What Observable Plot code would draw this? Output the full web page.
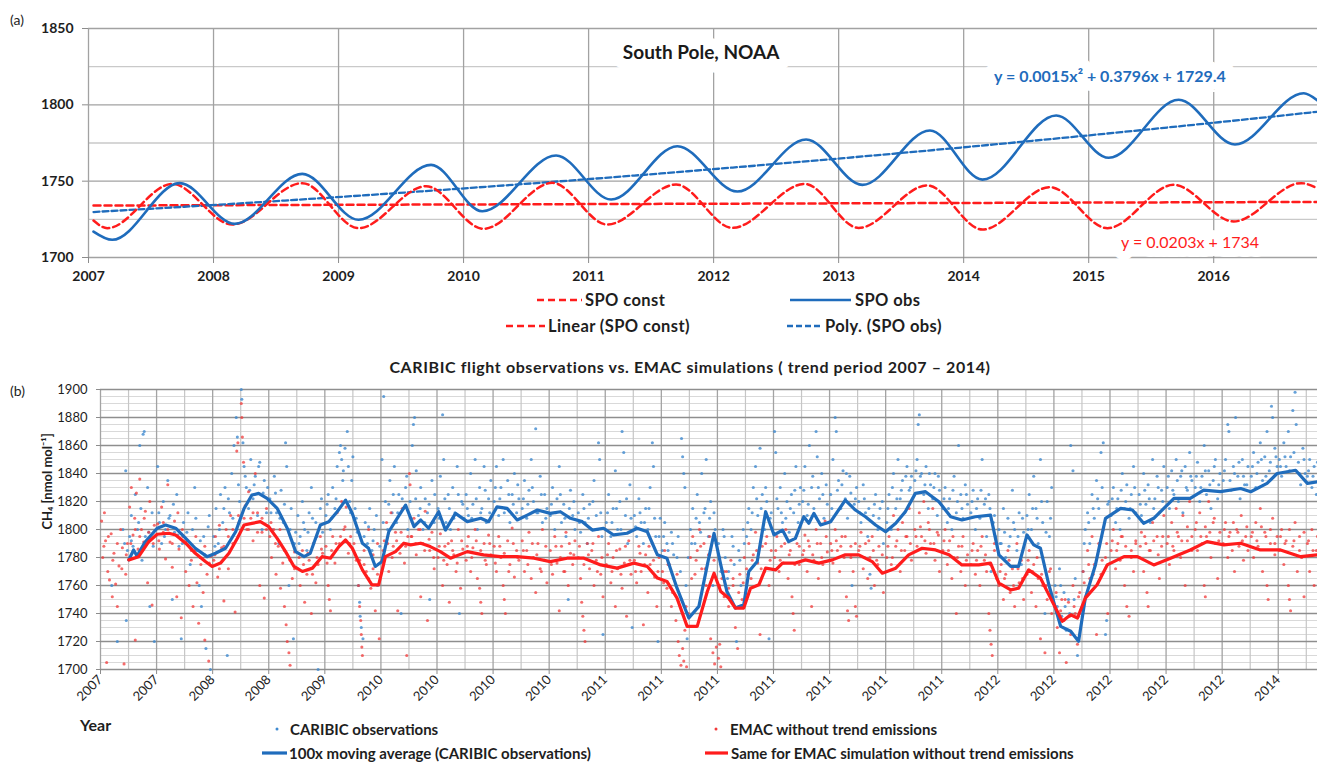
<!DOCTYPE html>
<html>
<head>
<meta charset="utf-8">
<script src="https://cdn.jsdelivr.net/npm/d3@7"></script>
<script src="https://cdn.jsdelivr.net/npm/@observablehq/plot@0.6"></script>
<style>
  body { margin: 0; background: #fff; }
  #page { position: relative; width: 1317px; height: 762px; overflow: hidden; font-family: Lato, "Open Sans", sans-serif; color: #1e1e1e; }
  #page svg { position: absolute; left: 0; }
  .t { position: absolute; white-space: nowrap; transform: translateY(-50%); line-height: 1; }
</style>
</head>
<body>
<div id="page"></div>
<script>
// ---------- Panel (a): South Pole NOAA methane ----------
const yearsA = [2007, 2008, 2009, 2010, 2011, 2012, 2013, 2014, 2015, 2016];
const yTicksA = [1700, 1750, 1800, 1850];
const yMinorA = [1725, 1775, 1825];

// observed SPO series (decimal year, ppb): start, alternating troughs/peaks, end
const spoObs = [
  [2007.04, 1717.0], [2007.19, 1711.6], [2007.73, 1748.7], [2008.17, 1722.0],
  [2008.71, 1754.8], [2009.16, 1724.7], [2009.74, 1760.7], [2010.15, 1730.3],
  [2010.74, 1766.8], [2011.18, 1738.0], [2011.71, 1772.9], [2012.19, 1743.2],
  [2012.74, 1777.3], [2013.19, 1747.6], [2013.73, 1783.2], [2014.15, 1751.0],
  [2014.74, 1793.0], [2015.16, 1765.3], [2015.72, 1803.3], [2016.17, 1774.0],
  [2016.72, 1807.6], [2016.83, 1802.8]
];
// SPO with constant emissions
const spoConst = [
  [2007.04, 1724.2], [2007.15, 1719.2], [2007.67, 1748.2], [2008.15, 1721.6],
  [2008.71, 1748.7], [2009.16, 1719.2], [2009.70, 1746.7], [2010.16, 1718.8],
  [2010.71, 1748.9], [2011.15, 1721.6], [2011.70, 1747.8], [2012.15, 1719.4],
  [2012.73, 1748.2], [2013.16, 1719.4], [2013.71, 1747.2], [2014.15, 1718.3],
  [2014.69, 1746.1], [2015.15, 1719.2], [2015.68, 1747.6], [2016.16, 1723.6],
  [2016.70, 1748.7], [2016.83, 1745.2]
];
// trend lines: values of the fitted equations (x = month number) at the plotted dates
const linearConst = [[2007.04, 1734.02], [2016.87, 1736.42]];
const polyObs = [
  [2007.04, 1729.78], [2008.04, 1734.59], [2009.04, 1739.83], [2010.04, 1745.50],
  [2011.04, 1751.60], [2012.04, 1758.14], [2013.04, 1765.10], [2014.04, 1772.50],
  [2015.04, 1780.33], [2016.04, 1788.60], [2016.87, 1795.81]
];
const titleA = "South Pole, NOAA";
const eqPoly = "y = 0.0015x² + 0.3796x + 1729.4";
const eqLinear = "y = 0.0203x + 1734";
const legendLabelsA = ["SPO const", "SPO obs", "Linear (SPO const)", "Poly. (SPO obs)"];

// ---------- Panel (b): CARIBIC vs EMAC ----------
const xLabelsB = ["2007","2007","2008","2008","2009","2010","2010","2010","2010","2011","2011",
                  "2011","2011","2011","2011","2011","2012","2012","2012","2012","2012","2014"];
const yTicksB = [1700, 1720, 1740, 1760, 1780, 1800, 1820, 1840, 1860, 1880, 1900];
const titleB = "CARIBIC flight observations vs. EMAC simulations ( trend period 2007 – 2014)";
const yTitleB = "CH₄ [nmol mol⁻¹]";
const legendLabelsB = ["CARIBIC observations", "EMAC without trend emissions",
                       "100x moving average (CARIBIC observations)", "Same for EMAC simulation without trend emissions"];

// 100-point moving averages (sample position in label units, nmol/mol)
const blueAvg = [
  [0.505,1778.3],[0.59,1785.4],[0.65,1781.0],[0.80,1791.3],[1.01,1800.9],[1.16,1803.2],[1.34,1800.9],
  [1.52,1793.7],[1.69,1786.6],[1.90,1780.6],[2.05,1783.0],[2.23,1786.6],[2.41,1798.4],[2.56,1815.0],
  [2.70,1824.6],[2.82,1825.8],[2.97,1822.2],[3.15,1815.1],[3.33,1800.9],[3.48,1784.2],[3.63,1780.6],
  [3.74,1783.0],[3.92,1803.2],[4.07,1805.6],[4.22,1812.7],[4.37,1821.0],[4.49,1811.5],[4.67,1790.2],
  [4.78,1786.6],[4.90,1773.6],[5.02,1777.1],[5.14,1798.4],[5.29,1808.0],[5.44,1817.4],[5.59,1802.0],
  [5.71,1806.8],[5.85,1800.9],[6.03,1812.7],[6.15,1799.6],[6.33,1811.5],[6.54,1805.6],[6.78,1808.0],
  [6.92,1805.6],[7.07,1816.2],[7.25,1815.1],[7.43,1806.8],[7.61,1810.3],[7.79,1813.9],[8.02,1811.5],
  [8.20,1812.7],[8.38,1808.0],[8.59,1805.6],[8.77,1799.6],[8.97,1800.9],[9.15,1796.1],[9.39,1797.3],
  [9.57,1800.9],[9.75,1798.4],[9.93,1781.9],[10.10,1779.5],[10.28,1758.1],[10.49,1736.8],[10.67,1745.1],
  [10.82,1774.7],[10.94,1797.3],[11.06,1774.7],[11.17,1755.7],[11.32,1743.9],[11.47,1746.3],[11.56,1770.0],
  [11.71,1777.1],[11.86,1812.7],[12.01,1796.1],[12.16,1799.6],[12.27,1791.3],[12.39,1793.7],[12.54,1809.1],
  [12.63,1804.4],[12.72,1811.5],[12.84,1803.2],[13.02,1805.6],[13.28,1821.0],[13.46,1813.9],[13.64,1809.1],
  [13.82,1803.2],[14.00,1798.4],[14.18,1804.4],[14.35,1812.7],[14.53,1825.8],[14.71,1827.0],[14.95,1819.8],
  [15.16,1809.1],[15.36,1806.8],[15.60,1809.1],[15.87,1810.3],[16.02,1781.9],[16.23,1773.6],[16.37,1773.6],
  [16.52,1796.1],[16.64,1789.0],[16.76,1786.6],[16.91,1760.5],[17.12,1730.8],[17.30,1727.3],[17.44,1720.1],
  [17.56,1751.0],[17.74,1774.7],[17.92,1808.0],[18.19,1815.1],[18.40,1813.9],[18.60,1804.4],[18.78,1808.0],
  [18.96,1815.1],[19.14,1822.2],[19.43,1822.2],[19.67,1828.1],[19.97,1827.0],[20.33,1829.3],[20.51,1827.0],
  [20.80,1832.9],[20.98,1840.0],[21.31,1842.3],[21.52,1832.9],[21.70,1834.0]
];
const redAvg = [
  [0.505,1778.3],[0.68,1780.6],[0.86,1791.3],[1.01,1796.6],[1.22,1797.3],[1.34,1796.1],[1.52,1790.2],
  [1.69,1783.0],[1.87,1777.1],[1.99,1773.6],[2.14,1776.0],[2.29,1783.0],[2.44,1793.7],[2.56,1803.2],
  [2.70,1804.4],[2.85,1805.6],[3.00,1802.0],[3.15,1793.7],[3.30,1784.2],[3.45,1773.6],[3.60,1770.0],
  [3.78,1772.4],[3.95,1780.6],[4.10,1779.5],[4.25,1787.8],[4.37,1792.5],[4.49,1786.6],[4.67,1771.2],
  [4.84,1760.5],[4.96,1760.5],[5.08,1780.6],[5.26,1784.2],[5.41,1790.2],[5.53,1789.0],[5.71,1790.2],
  [5.88,1787.8],[6.06,1784.2],[6.24,1779.5],[6.54,1784.2],[6.83,1781.9],[7.13,1780.6],[7.43,1780.6],
  [7.73,1779.5],[8.02,1777.1],[8.32,1779.5],[8.62,1779.5],[8.92,1774.7],[9.21,1772.4],[9.51,1776.0],
  [9.75,1773.6],[9.93,1765.3],[10.10,1762.9],[10.28,1751.0],[10.46,1730.8],[10.64,1730.8],[10.82,1755.7],
  [10.94,1768.8],[11.06,1755.7],[11.20,1751.0],[11.32,1743.9],[11.47,1743.9],[11.59,1758.1],[11.74,1760.5],
  [11.86,1772.4],[12.04,1771.2],[12.16,1776.0],[12.39,1776.0],[12.57,1778.3],[12.81,1776.0],[13.05,1778.3],
  [13.28,1781.9],[13.52,1781.9],[13.76,1777.1],[13.94,1768.8],[14.18,1772.4],[14.41,1781.9],[14.65,1786.6],
  [14.89,1785.4],[15.13,1781.9],[15.36,1774.7],[15.66,1774.7],[15.87,1776.0],[16.02,1761.7],[16.23,1756.9],
  [16.37,1758.1],[16.55,1771.2],[16.76,1765.3],[16.94,1751.0],[17.15,1734.4],[17.30,1739.1],[17.42,1736.8],
  [17.56,1751.0],[17.77,1760.5],[17.95,1774.7],[18.25,1780.6],[18.49,1780.6],[18.78,1774.7],[19.08,1779.5],
  [19.43,1785.4],[19.73,1791.3],[20.03,1789.0],[20.33,1790.2],[20.68,1785.4],[21.04,1785.4],[21.40,1780.6],
  [21.70,1781.9]
];

// individual samples: CARIBIC observations
const blueDots = [
  [0.40,1800],[0.43,1790],[0.45,1842],[0.48,1785],[0.46,1735],[0.30,1720],[0.20,1760],
  [0.52,1795],[0.55,1810],[0.58,1788],[0.62,1825],[0.66,1800],[0.70,1860],[0.72,1815],[0.76,1868],[0.78,1870],[0.80,1795],[0.84,1830],[0.88,1745],[0.92,1812],[0.96,1720],
  [1.02,1845],[1.05,1805],[1.09,1790],[1.12,1820],[1.16,1800],[1.20,1835],[1.24,1810],[1.28,1750],[1.32,1798],[1.36,1825],[1.40,1788],[1.44,1722],[1.48,1805],
  [1.52,1790],[1.56,1812],[1.60,1775],[1.64,1800],[1.68,1830],[1.72,1785],[1.76,1760],[1.80,1745],[1.84,1795],[1.88,1715],[1.92,1802],[1.96,1700],
  [2.02,1795],[2.06,1815],[2.10,1790],[2.14,1825],[2.18,1805],[2.22,1830],[2.26,1710],[2.30,1812],[2.34,1840],[2.38,1860],[2.42,1880],[2.44,1866],[2.48,1820],
  [2.51,1900],[2.52,1893],[2.54,1862],[2.56,1845],[2.60,1830],[2.64,1815],[2.68,1850],[2.72,1822],[2.76,1838],[2.80,1810],[2.84,1848],[2.88,1800],[2.92,1835],[2.96,1812],
  [3.02,1822],[3.06,1800],[3.10,1838],[3.14,1812],[3.18,1790],[3.22,1828],[3.26,1805],[3.30,1862],[3.32,1845],[3.36,1760],[3.40,1815],[3.44,1722],[3.48,1798],
  [3.52,1810],[3.56,1795],[3.60,1820],[3.64,1800],[3.68,1785],[3.72,1812],[3.76,1830],[3.80,1790],[3.84,1805],[3.88,1700],[3.92,1815],[3.96,1798],
  [4.02,1810],[4.06,1825],[4.10,1800],[4.14,1830],[4.18,1815],[4.22,1845],[4.26,1855],[4.28,1860],[4.30,1850],[4.33,1842],[4.36,1858],[4.40,1870],[4.44,1820],[4.48,1835],
  [4.50,1852],[4.54,1815],[4.58,1798],[4.60,1760],[4.62,1748],[4.63,1738],[4.65,1730],[4.68,1722],[4.72,1805],[4.76,1790],[4.80,1815],[4.84,1785],[4.88,1800],[4.94,1760],
  [5.02,1850],[5.05,1895],[5.08,1820],[5.12,1800],[5.16,1835],[5.20,1812],[5.24,1845],[5.28,1805],[5.32,1825],[5.36,1740],[5.40,1815],[5.44,1830],[5.48,1800],
  [5.52,1820],[5.56,1860],[5.58,1875],[5.60,1880],[5.63,1842],[5.67,1810],[5.71,1830],[5.75,1800],[5.79,1822],[5.83,1812],[5.87,1750],[5.91,1835],[5.95,1805],
  [6.02,1815],[6.06,1838],[6.10,1882],[6.12,1850],[6.16,1805],[6.20,1825],[6.24,1800],[6.28,1830],[6.32,1812],[6.36,1845],[6.40,1740],[6.44,1820],[6.48,1808],
  [6.52,1825],[6.56,1810],[6.60,1840],[6.64,1818],[6.68,1850],[6.72,1800],[6.76,1830],[6.80,1815],[6.84,1845],[6.88,1805],[6.92,1822],[6.96,1835],
  [7.02,1820],[7.06,1845],[7.10,1810],[7.14,1830],[7.18,1850],[7.22,1815],[7.26,1835],[7.30,1805],[7.34,1825],[7.38,1840],[7.42,1812],[7.46,1822],
  [7.52,1815],[7.56,1835],[7.60,1808],[7.64,1828],[7.68,1850],[7.72,1820],[7.76,1872],[7.80,1812],[7.84,1838],[7.88,1805],[7.92,1825],[7.96,1815],
  [8.02,1810],[8.06,1830],[8.10,1800],[8.14,1822],[8.18,1845],[8.22,1805],[8.26,1818],[8.30,1795],[8.34,1750],[8.38,1828],[8.42,1810],[8.46,1800],
  [8.52,1812],[8.56,1798],[8.60,1825],[8.64,1805],[8.68,1790],[8.72,1818],[8.76,1800],[8.80,1835],[8.84,1810],[8.88,1862],[8.90,1850],[8.94,1795],[8.96,1725],
  [9.02,1805],[9.06,1825],[9.10,1795],[9.14,1815],[9.18,1842],[9.22,1800],[9.26,1820],[9.30,1870],[9.33,1855],[9.36,1810],[9.40,1790],[9.44,1832],[9.48,1730],
  [9.52,1810],[9.56,1795],[9.60,1822],[9.64,1805],[9.68,1790],[9.72,1815],[9.76,1800],[9.80,1830],[9.84,1862],[9.86,1845],[9.90,1795],[9.94,1720],[9.98,1808],
  [10.02,1785],[10.06,1805],[10.10,1790],[10.14,1775],[10.18,1798],[10.22,1782],[10.26,1760],[10.30,1795],[10.36,1865],[10.38,1852],[10.40,1840],[10.42,1830],[10.46,1722],[10.48,1780],
  [10.52,1800],[10.56,1815],[10.60,1790],[10.64,1825],[10.68,1805],[10.72,1840],[10.76,1812],[10.80,1850],[10.84,1795],[10.88,1820],[10.92,1760],[10.96,1800],
  [11.02,1790],[11.06,1770],[11.10,1800],[11.14,1780],[11.18,1765],[11.22,1750],[11.26,1795],[11.30,1775],[11.34,1720],[11.38,1785],[11.42,1760],[11.46,1800],
  [11.52,1795],[11.56,1815],[11.60,1800],[11.64,1830],[11.68,1845],[11.72,1810],[11.76,1858],[11.80,1825],[11.84,1800],[11.88,1820],[11.92,1722],[11.96,1812],
  [12.02,1870],[12.04,1855],[12.08,1815],[12.12,1830],[12.16,1805],[12.20,1840],[12.24,1820],[12.28,1798],[12.32,1825],[12.36,1812],[12.40,1845],[12.44,1805],[12.48,1830],
  [12.52,1820],[12.56,1845],[12.60,1810],[12.64,1860],[12.68,1830],[12.72,1815],[12.76,1870],[12.78,1852],[12.82,1822],[12.86,1840],[12.90,1808],[12.94,1832],
  [13.02,1825],[13.06,1850],[13.10,1880],[13.12,1870],[13.16,1835],[13.20,1815],[13.24,1842],[13.28,1822],[13.32,1808],[13.36,1838],[13.40,1760],[13.44,1818],[13.48,1830],
  [13.52,1820],[13.56,1805],[13.60,1832],[13.64,1812],[13.68,1795],[13.72,1768],[13.74,1758],[13.78,1810],[13.82,1825],[13.86,1800],[13.90,1815],[13.96,1790],
  [14.02,1805],[14.06,1825],[14.10,1800],[14.14,1840],[14.18,1815],[14.22,1850],[14.26,1822],[14.30,1835],[14.34,1812],[14.38,1845],[14.42,1828],[14.46,1838],
  [14.52,1835],[14.56,1850],[14.58,1875],[14.60,1882],[14.64,1840],[14.68,1825],[14.72,1845],[14.76,1815],[14.80,1832],[14.84,1822],[14.88,1840],[14.92,1810],[14.96,1828],
  [15.02,1815],[15.06,1830],[15.10,1805],[15.14,1822],[15.18,1800],[15.22,1838],[15.26,1812],[15.30,1860],[15.34,1825],[15.38,1808],[15.42,1832],[15.46,1818],
  [15.52,1812],[15.56,1828],[15.60,1800],[15.64,1822],[15.68,1808],[15.72,1850],[15.76,1818],[15.80,1795],[15.84,1825],[15.88,1770],[15.92,1805],[15.96,1795],
  [16.02,1800],[16.06,1790],[16.10,1815],[16.14,1780],[16.18,1808],[16.22,1795],[16.26,1828],[16.30,1800],[16.34,1785],[16.38,1812],[16.42,1775],[16.46,1798],
  [16.52,1810],[16.56,1825],[16.60,1800],[16.64,1838],[16.68,1815],[16.72,1790],[16.76,1850],[16.80,1805],[16.84,1740],[16.88,1820],[16.92,1795],[16.96,1830],
  [17.02,1760],[17.06,1745],[17.10,1772],[17.14,1738],[17.18,1755],[17.22,1728],[17.26,1750],[17.30,1860],[17.34,1842],[17.38,1765],[17.42,1710],[17.46,1740],
  [17.52,1770],[17.56,1800],[17.60,1812],[17.64,1790],[17.68,1825],[17.72,1808],[17.76,1835],[17.80,1815],[17.84,1855],[17.88,1862],[17.92,1725],[17.94,1735],[17.98,1820],
  [18.02,1810],[18.06,1830],[18.10,1805],[18.14,1822],[18.18,1800],[18.22,1840],[18.26,1815],[18.30,1832],[18.34,1808],[18.38,1825],[18.42,1845],[18.46,1812],
  [18.52,1825],[18.56,1810],[18.60,1840],[18.64,1818],[18.68,1832],[18.72,1805],[18.76,1850],[18.80,1822],[18.84,1838],[18.88,1812],[18.92,1828],[18.96,1845],
  [19.02,1830],[19.06,1815],[19.10,1842],[19.14,1825],[19.18,1850],[19.22,1820],[19.26,1838],[19.30,1812],[19.34,1845],[19.38,1828],[19.42,1855],[19.46,1835],
  [19.52,1830],[19.56,1848],[19.60,1820],[19.64,1838],[19.68,1860],[19.72,1825],[19.76,1842],[19.80,1815],[19.84,1835],[19.88,1850],[19.92,1822],[19.96,1840],
  [20.02,1835],[20.06,1850],[20.10,1875],[20.12,1870],[20.16,1828],[20.20,1845],[20.24,1880],[20.28,1838],[20.32,1822],[20.36,1850],[20.40,1832],[20.46,1845],
  [20.52,1838],[20.56,1855],[20.60,1830],[20.64,1848],[20.68,1862],[20.72,1835],[20.76,1852],[20.80,1870],[20.84,1842],[20.88,1888],[20.90,1880],[20.94,1858],[20.98,1845],
  [21.02,1850],[21.06,1838],[21.10,1862],[21.14,1845],[21.18,1870],[21.22,1852],[21.26,1885],[21.30,1898],[21.32,1875],[21.36,1848],[21.40,1832],[21.44,1858],[21.48,1840],
  [21.52,1838],[21.56,1850],[21.60,1830],[21.64,1845],[21.68,1825],
  // dense band close to the running mean
  [0.55,1792],[0.68,1805],[0.74,1778],[0.86,1798],[0.94,1788],
  [1.04,1812],[1.14,1795],[1.22,1808],[1.30,1818],[1.38,1796],[1.46,1790],
  [1.54,1798],[1.62,1786],[1.70,1808],[1.78,1792],[1.86,1782],[1.94,1810],
  [2.04,1788],[2.12,1800],[2.20,1815],[2.28,1822],[2.36,1808],[2.46,1832],
  [2.58,1838],[2.66,1828],[2.74,1832],[2.82,1845],[2.90,1826],[2.98,1830],
  [3.04,1812],[3.12,1826],[3.20,1808],[3.28,1818],[3.38,1800],[3.46,1790],
  [3.54,1790],[3.62,1805],[3.70,1798],[3.78,1808],[3.86,1795],[3.94,1822],
  [4.04,1818],[4.12,1808],[4.20,1822],[4.32,1835],[4.42,1845],[4.46,1812],
  [4.56,1808],[4.70,1795],[4.78,1802],[4.86,1792],[4.92,1810],[4.98,1788],
  [5.04,1805],[5.14,1818],[5.22,1825],[5.30,1812],[5.38,1822],[5.46,1838],
  [5.54,1808],[5.62,1822],[5.70,1815],[5.78,1805],[5.86,1818],[5.96,1825],
  [6.04,1808],[6.14,1822],[6.22,1815],[6.30,1808],[6.38,1825],[6.46,1818],
  [6.54,1815],[6.62,1808],[6.70,1822],[6.78,1812],[6.86,1828],[6.94,1812],
  [7.04,1830],[7.12,1822],[7.20,1812],[7.28,1825],[7.36,1818],[7.44,1832],
  [7.54,1822],[7.62,1818],[7.70,1830],[7.78,1812],[7.86,1825],[7.94,1808],
  [8.04,1818],[8.12,1812],[8.20,1825],[8.28,1808],[8.36,1815],[8.44,1820],
  [8.54,1805],[8.62,1815],[8.70,1808],[8.78,1820],[8.86,1800],[8.92,1812],
  [9.04,1812],[9.12,1805],[9.20,1815],[9.28,1800],[9.38,1822],[9.46,1808],
  [9.54,1802],[9.62,1812],[9.70,1805],[9.78,1815],[9.88,1808],[9.96,1795],
  [10.04,1795],[10.12,1785],[10.20,1790],[10.28,1780],[10.34,1770],[10.44,1760],
  [10.54,1790],[10.62,1808],[10.70,1798],[10.78,1815],[10.86,1808],[10.94,1812],
  [11.04,1780],[11.12,1795],[11.20,1770],[11.28,1788],[11.40,1778],[11.48,1790],
  [11.54,1805],[11.62,1812],[11.70,1822],[11.78,1815],[11.86,1830],[11.94,1808],
  [12.06,1822],[12.14,1812],[12.22,1808],[12.30,1815],[12.38,1828],[12.46,1818],
  [12.54,1828],[12.62,1818],[12.70,1838],[12.80,1830],[12.88,1825],[12.96,1818],
  [13.04,1815],[13.14,1828],[13.22,1832],[13.30,1840],[13.38,1826],[13.46,1822],
  [13.54,1812],[13.62,1822],[13.70,1815],[13.80,1818],[13.88,1808],[13.94,1820],
  [14.04,1815],[14.12,1830],[14.20,1822],[14.28,1828],[14.36,1838],[14.44,1830],
  [14.54,1842],[14.62,1838],[14.70,1832],[14.78,1840],[14.86,1830],[14.94,1838],
  [15.04,1822],[15.12,1815],[15.20,1828],[15.28,1820],[15.36,1815],[15.44,1825],
  [15.54,1820],[15.62,1815],[15.70,1828],[15.78,1822],[15.86,1815],[15.94,1810],
  [16.04,1790],[16.12,1798],[16.20,1788],[16.28,1805],[16.36,1795],[16.44,1808],
  [16.54,1800],[16.62,1815],[16.70,1808],[16.78,1820],[16.86,1798],[16.94,1808],
  [17.04,1752],[17.12,1760],[17.20,1745],[17.28,1740],[17.36,1750],[17.44,1738],
  [17.54,1790],[17.62,1805],[17.70,1815],[17.78,1822],[17.86,1830],[17.96,1818],
  [18.04,1822],[18.12,1815],[18.20,1828],[18.28,1820],[18.36,1815],[18.44,1830],
  [18.54,1818],[18.62,1828],[18.70,1822],[18.78,1815],[18.86,1830],[18.94,1820],
  [19.04,1838],[19.12,1828],[19.20,1835],[19.28,1842],[19.36,1830],[19.44,1838],
  [19.54,1838],[19.62,1830],[19.70,1842],[19.78,1832],[19.86,1845],[19.94,1832],
  [20.04,1842],[20.14,1835],[20.22,1840],[20.30,1848],[20.38,1838],[20.44,1832],
  [20.54,1845],[20.62,1840],[20.70,1850],[20.78,1838],[20.86,1848],[20.96,1852],
  [21.04,1845],[21.12,1852],[21.20,1842],[21.28,1855],[21.38,1840],[21.46,1850],
  [21.54,1842],[21.62,1838],[21.70,1848]
];
// individual samples: EMAC without trend emissions
const redDots = [
  [0.02,1806],[0.04,1780],[0.07,1812],[0.09,1792],[0.11,1705],[0.13,1770],[0.16,1764],[0.19,1797],[0.21,1752],[0.24,1783],[0.27,1761],[0.30,1745],[0.33,1774],[0.36,1800],[0.39,1787],[0.42,1704],[0.45,1768],[0.48,1790],
  [0.52,1816],[0.55,1830],[0.58,1796],[0.61,1808],[0.64,1826],[0.67,1786],[0.70,1836],[0.73,1800],[0.77,1791],[0.80,1813],[0.84,1762],[0.88,1820],[0.92,1746],[0.96,1803],[0.62,1721],
  [1.02,1804],[1.05,1786],[1.09,1816],[1.12,1798],[1.16,1779],[1.20,1832],[1.24,1791],[1.28,1773],[1.32,1806],[1.36,1752],[1.40,1786],[1.44,1737],[1.47,1795],
  [1.52,1770],[1.55,1792],[1.58,1760],[1.62,1778],[1.65,1745],[1.68,1785],[1.72,1762],[1.75,1733],[1.79,1775],[1.83,1755],[1.86,1721],[1.90,1768],[1.93,1706],[1.97,1781],
  [2.02,1778],[2.05,1795],[2.09,1766],[2.12,1803],[2.16,1787],[2.20,1749],[2.24,1800],[2.28,1772],[2.32,1810],[2.36,1790],[2.40,1741],[2.43,1856],[2.45,1862],[2.47,1805],
  [2.51,1890],[2.52,1880],[2.53,1866],[2.55,1848],[2.58,1817],[2.61,1800],[2.64,1827],[2.68,1808],[2.72,1792],[2.76,1840],[2.80,1812],[2.84,1760],[2.88,1798],[2.92,1751],[2.96,1815],
  [3.02,1795],[3.05,1780],[3.09,1800],[3.13,1768],[3.17,1788],[3.21,1758],[3.25,1776],[3.28,1745],[3.31,1732],[3.33,1720],[3.36,1712],[3.38,1703],[3.42,1765],[3.46,1784],
  [3.52,1772],[3.56,1760],[3.60,1785],[3.64,1748],[3.68,1768],[3.72,1778],[3.76,1740],[3.80,1790],[3.84,1762],[3.88,1775],[3.92,1795],[3.96,1783],
  [4.02,1788],[4.06,1760],[4.08,1750],[4.10,1742],[4.14,1795],[4.18,1776],[4.22,1812],[4.26,1790],[4.30,1820],[4.34,1800],[4.38,1816],[4.42,1783],[4.46,1795],
  [4.52,1790],[4.56,1778],[4.60,1760],[4.62,1745],[4.64,1735],[4.65,1725],[4.66,1716],[4.67,1710],[4.70,1785],[4.74,1770],[4.78,1800],[4.82,1758],[4.86,1772],[4.90,1742],[4.94,1790],[4.97,1722],
  [5.02,1778],[5.06,1792],[5.10,1805],[5.14,1770],[5.18,1812],[5.22,1788],[5.26,1798],[5.30,1742],[5.34,1783],[5.38,1815],[5.42,1776],[5.46,1710],[5.48,1795],
  [5.51,1840],[5.52,1832],[5.55,1795],[5.59,1808],[5.63,1782],[5.67,1800],[5.71,1752],[5.75,1790],[5.79,1813],[5.83,1735],[5.87,1785],[5.91,1798],[5.95,1772],
  [6.02,1780],[6.06,1797],[6.10,1760],[6.14,1788],[6.18,1775],[6.22,1748],[6.26,1792],[6.30,1782],[6.34,1770],[6.38,1800],[6.42,1758],[6.46,1786],
  [6.52,1778],[6.56,1795],[6.60,1770],[6.64,1787],[6.68,1800],[6.72,1765],[6.76,1758],[6.78,1748],[6.80,1740],[6.84,1790],[6.88,1775],[6.92,1796],[6.96,1782],
  [7.02,1788],[7.06,1770],[7.10,1795],[7.14,1780],[7.18,1760],[7.20,1750],[7.22,1740],[7.26,1792],[7.30,1775],[7.34,1801],[7.38,1766],[7.42,1785],[7.46,1778],
  [7.52,1792],[7.56,1770],[7.60,1785],[7.64,1798],[7.68,1765],[7.72,1780],[7.76,1755],[7.80,1790],[7.84,1772],[7.88,1800],[7.92,1778],[7.96,1762],
  [8.02,1785],[8.06,1768],[8.10,1795],[8.14,1776],[8.18,1742],[8.22,1788],[8.26,1770],[8.30,1798],[8.34,1760],[8.38,1783],[8.42,1775],[8.46,1792],
  [8.52,1780],[8.56,1765],[8.58,1748],[8.60,1738],[8.62,1728],[8.64,1720],[8.68,1790],[8.72,1772],[8.76,1785],[8.80,1760],[8.84,1778],[8.88,1795],[8.92,1768],[8.96,1752],
  [9.02,1775],[9.06,1790],[9.10,1762],[9.14,1780],[9.18,1745],[9.22,1772],[9.26,1786],[9.30,1758],[9.34,1776],[9.38,1738],[9.42,1792],[9.46,1768],
  [9.52,1778],[9.56,1762],[9.60,1788],[9.64,1770],[9.68,1732],[9.72,1782],[9.76,1755],[9.80,1775],[9.84,1790],[9.88,1766],[9.92,1745],[9.96,1780],
  [10.02,1770],[10.06,1785],[10.10,1758],[10.14,1775],[10.18,1745],[10.22,1765],[10.26,1735],[10.30,1720],[10.32,1710],[10.35,1703],[10.38,1715],[10.40,1706],[10.42,1728],[10.45,1702],[10.48,1740],
  [10.52,1780],[10.56,1795],[10.60,1768],[10.64,1785],[10.68,1800],[10.72,1772],[10.76,1790],[10.80,1760],[10.84,1782],[10.88,1722],[10.92,1712],[10.95,1704],[10.98,1716],
  [11.02,1708],[11.04,1718],[11.06,1702],[11.08,1765],[11.12,1752],[11.16,1770],[11.20,1745],[11.24,1778],[11.28,1760],[11.32,1730],[11.36,1715],[11.40,1768],[11.44,1750],[11.48,1780],
  [11.52,1772],[11.56,1790],[11.60,1765],[11.64,1782],[11.68,1798],[11.72,1776],[11.76,1725],[11.80,1788],[11.84,1770],[11.88,1795],[11.92,1760],[11.96,1785],
  [12.02,1780],[12.06,1795],[12.10,1770],[12.14,1788],[12.18,1776],[12.22,1800],[12.26,1765],[12.30,1785],[12.33,1752],[12.35,1740],[12.37,1728],[12.42,1790],[12.46,1775],
  [12.52,1782],[12.56,1796],[12.60,1770],[12.64,1788],[12.68,1745],[12.72,1778],[12.76,1800],[12.80,1765],[12.84,1790],[12.88,1775],[12.92,1806],[12.96,1784],
  [13.02,1790],[13.06,1776],[13.10,1800],[13.14,1785],[13.18,1770],[13.22,1795],[13.26,1780],[13.30,1752],[13.32,1742],[13.34,1735],[13.38,1788],[13.42,1770],[13.46,1745],[13.48,1738],
  [13.52,1785],[13.56,1798],[13.60,1772],[13.64,1790],[13.68,1765],[13.72,1780],[13.76,1795],[13.80,1760],[13.84,1778],[13.88,1788],[13.92,1770],[13.96,1755],
  [14.02,1780],[14.06,1795],[14.10,1775],[14.14,1810],[14.18,1788],[14.22,1800],[14.26,1770],[14.30,1805],[14.34,1785],[14.38,1795],[14.42,1815],[14.46,1778],
  [14.52,1800],[14.56,1788],[14.60,1812],[14.64,1795],[14.68,1820],[14.72,1783],[14.76,1805],[14.80,1790],[14.84,1815],[14.88,1778],[14.92,1798],[14.96,1770],
  [15.02,1785],[15.06,1800],[15.10,1775],[15.14,1792],[15.18,1765],[15.22,1780],[15.26,1740],[15.30,1788],[15.34,1770],[15.38,1795],[15.42,1760],[15.46,1782],
  [15.52,1775],[15.56,1790],[15.60,1768],[15.64,1785],[15.68,1760],[15.72,1795],[15.76,1778],[15.80,1770],[15.84,1740],[15.86,1728],[15.88,1718],[15.90,1710],[15.94,1785],[15.98,1765],
  [16.02,1760],[16.06,1775],[16.10,1750],[16.14,1768],[16.18,1785],[16.22,1755],[16.26,1772],[16.30,1745],[16.34,1790],[16.38,1762],[16.42,1778],[16.46,1750],
  [16.52,1768],[16.56,1785],[16.60,1755],[16.64,1775],[16.68,1745],[16.72,1765],[16.76,1722],[16.80,1760],[16.84,1712],[16.88,1750],[16.92,1770],[16.96,1740],
  [17.02,1745],[17.06,1730],[17.10,1712],[17.14,1750],[17.18,1735],[17.22,1705],[17.26,1748],[17.30,1725],[17.34,1760],[17.38,1740],[17.42,1718],[17.46,1755],
  [17.52,1770],[17.56,1752],[17.60,1785],[17.64,1765],[17.68,1795],[17.72,1775],[17.76,1725],[17.80,1790],[17.84,1768],[17.88,1800],[17.92,1780],[17.96,1740],
  [18.02,1785],[18.06,1800],[18.10,1772],[18.14,1790],[18.18,1778],[18.22,1795],[18.26,1760],[18.30,1745],[18.34,1738],[18.38,1785],[18.42,1770],[18.46,1792],
  [18.52,1780],[18.56,1798],[18.60,1770],[18.64,1790],[18.66,1755],[18.68,1745],[18.72,1785],[18.76,1805],[18.80,1775],[18.84,1795],[18.88,1765],[18.92,1788],[18.96,1810],
  [19.02,1790],[19.06,1775],[19.10,1805],[19.14,1785],[19.18,1815],[19.22,1795],[19.26,1780],[19.30,1810],[19.34,1760],[19.38,1792],[19.42,1820],[19.46,1785],
  [19.52,1800],[19.56,1785],[19.60,1812],[19.64,1790],[19.68,1760],[19.70,1752],[19.72,1795],[19.76,1820],[19.80,1780],[19.84,1805],[19.88,1790],[19.92,1765],[19.96,1798],
  [20.02,1790],[20.06,1805],[20.10,1780],[20.14,1798],[20.18,1785],[20.22,1770],[20.26,1800],[20.30,1788],[20.34,1810],[20.38,1778],[20.42,1795],[20.46,1785],
  [20.52,1795],[20.56,1780],[20.60,1805],[20.64,1788],[20.68,1815],[20.72,1770],[20.76,1798],[20.80,1760],[20.82,1750],[20.86,1790],[20.90,1808],[20.94,1782],[20.98,1795],
  [21.02,1785],[21.06,1800],[21.10,1775],[21.14,1792],[21.18,1760],[21.20,1750],[21.22,1742],[21.26,1788],[21.30,1805],[21.34,1770],[21.38,1795],[21.42,1780],[21.46,1752],
  [21.52,1790],[21.56,1770],[21.60,1800],[21.64,1760],[21.68,1785],
  // dense band close to the running mean
  [0.06,1788],[0.14,1795],[0.22,1778],[0.30,1790],[0.38,1772],[0.46,1782],
  [0.54,1790],[0.62,1800],[0.70,1795],[0.78,1808],[0.86,1798],[0.94,1790],
  [1.04,1792],[1.12,1805],[1.20,1800],[1.28,1790],[1.38,1812],[1.46,1800],
  [1.54,1792],[1.62,1785],[1.70,1795],[1.78,1780],[1.86,1788],[1.94,1776],
  [2.04,1782],[2.12,1772],[2.20,1788],[2.28,1795],[2.36,1800],[2.46,1810],
  [2.56,1808],[2.64,1800],[2.72,1812],[2.80,1798],[2.88,1808],[2.96,1800],
  [3.04,1805],[3.12,1790],[3.20,1800],[3.28,1785],[3.38,1778],[3.46,1772],
  [3.54,1780],[3.62,1775],[3.70,1783],[3.78,1768],[3.86,1780],[3.94,1786],
  [4.04,1776],[4.12,1785],[4.20,1790],[4.28,1795],[4.36,1802],[4.44,1790],
  [4.54,1782],[4.62,1778],[4.70,1775],[4.78,1765],[4.86,1782],[4.94,1768],
  [5.04,1785],[5.12,1790],[5.20,1780],[5.28,1792],[5.36,1798],[5.44,1788],
  [5.54,1795],[5.62,1790],[5.70,1800],[5.78,1785],[5.86,1793],[5.94,1780],
  [6.04,1788],[6.12,1778],[6.20,1790],[6.28,1785],[6.36,1776],[6.44,1792],
  [6.54,1788],[6.62,1780],[6.70,1792],[6.78,1785],[6.86,1778],[6.94,1790],
  [7.04,1776],[7.12,1788],[7.20,1783],[7.28,1770],[7.36,1790],[7.44,1780],
  [7.54,1785],[7.62,1775],[7.70,1790],[7.78,1782],[7.86,1770],[7.94,1788],
  [8.04,1775],[8.12,1788],[8.20,1780],[8.28,1770],[8.36,1790],[8.44,1782],
  [8.54,1788],[8.62,1775],[8.70,1782],[8.78,1790],[8.86,1770],[8.94,1780],
  [9.04,1782],[9.12,1770],[9.20,1785],[9.28,1768],[9.36,1788],[9.44,1778],
  [9.54,1770],[9.62,1783],[9.70,1775],[9.78,1788],[9.86,1778],[9.94,1770],
  [10.04,1762],[10.12,1775],[10.20,1755],[10.28,1768],[10.36,1750],[10.44,1745],
  [10.54,1765],[10.62,1778],[10.70,1788],[10.78,1772],[10.86,1795],[10.94,1778],
  [11.04,1760],[11.12,1770],[11.20,1758],[11.28,1765],[11.38,1755],[11.46,1762],
  [11.54,1768],[11.62,1778],[11.70,1785],[11.78,1772],[11.86,1790],[11.94,1778],
  [12.04,1785],[12.12,1778],[12.20,1790],[12.28,1782],[12.38,1775],[12.46,1788],
  [12.54,1785],[12.62,1792],[12.70,1782],[12.78,1790],[12.86,1780],[12.94,1795],
  [13.04,1785],[13.12,1792],[13.20,1788],[13.28,1795],[13.38,1780],[13.46,1790],
  [13.54,1788],[13.62,1780],[13.70,1792],[13.78,1785],[13.86,1775],[13.94,1782],
  [14.04,1788],[14.12,1780],[14.20,1792],[14.28,1785],[14.36,1795],[14.44,1790],
  [14.54,1795],[14.62,1802],[14.70,1792],[14.78,1800],[14.86,1790],[14.94,1796],
  [15.04,1792],[15.12,1785],[15.20,1795],[15.28,1780],[15.36,1788],[15.44,1778],
  [15.54,1785],[15.62,1778],[15.70,1788],[15.78,1782],[15.86,1775],[15.94,1790],
  [16.04,1770],[16.12,1765],[16.20,1778],[16.28,1760],[16.36,1772],[16.44,1765],
  [16.54,1778],[16.62,1770],[16.70,1780],[16.78,1768],[16.86,1760],[16.94,1772],
  [17.04,1755],[17.12,1742],[17.20,1750],[17.28,1738],[17.36,1745],[17.44,1752],
  [17.54,1762],[17.62,1775],[17.70,1768],[17.78,1782],[17.86,1778],[17.94,1790],
  [18.04,1792],[18.12,1785],[18.20,1795],[18.28,1788],[18.38,1780],[18.46,1790],
  [18.54,1788],[18.62,1795],[18.70,1785],[18.78,1792],[18.86,1782],[18.94,1795],
  [19.04,1795],[19.12,1788],[19.20,1798],[19.28,1792],[19.38,1802],[19.46,1795],
  [19.54,1805],[19.62,1795],[19.70,1802],[19.78,1798],[19.86,1808],[19.94,1792],
  [20.04,1800],[20.12,1795],[20.20,1805],[20.28,1798],[20.36,1792],[20.44,1802],
  [20.54,1798],[20.62,1792],[20.70,1802],[20.78,1795],[20.86,1800],[20.94,1790],
  [21.04,1795],[21.12,1790],[21.20,1800],[21.28,1792],[21.38,1785],[21.46,1798],
  [21.54,1792],[21.62,1785],[21.70,1795]
];

// ---------- drawing ----------
const BLUE = "#1f6cbc";
const RED = "#ff1c1c";
const DOT_BLUE = "#3f8ad0";
const DOT_RED = "#f23a3a";
const page = document.getElementById("page");
const px = d => d[0], py = d => d[1];

function addText(str, left, cy, css) {
  const el = document.createElement("div");
  el.className = "t";
  el.textContent = str;
  el.style.left = left + "px";
  el.style.top = cy + "px";
  Object.assign(el.style, css || {});
  page.appendChild(el);
  return el;
}
function addSwatch(x0, x1, cy, color, width, dash, dot) {
  const ns = "http://www.w3.org/2000/svg";
  const s = document.createElementNS(ns, "svg");
  s.setAttribute("width", x1 - x0 + 2);
  s.setAttribute("height", 10);
  s.style.left = (x0 - 1) + "px";
  s.style.top = (cy - 5) + "px";
  if (dot) {
    const c = document.createElementNS(ns, "circle");
    c.setAttribute("cx", (x1 - x0) / 2 + 1); c.setAttribute("cy", 5); c.setAttribute("r", 1.5);
    c.setAttribute("fill", color); s.appendChild(c);
  } else {
    const l = document.createElementNS(ns, "line");
    l.setAttribute("x1", 1); l.setAttribute("x2", x1 - x0 + 1); l.setAttribute("y1", 5); l.setAttribute("y2", 5);
    l.setAttribute("stroke", color); l.setAttribute("stroke-width", width);
    if (dash) l.setAttribute("stroke-dasharray", dash);
    s.appendChild(l);
  }
  page.appendChild(s);
}

const chartA = Plot.plot({
  width: 1317, height: 292,
  marginLeft: 88, marginRight: 0, marginTop: 28, marginBottom: 35,
  x: {domain: [2007, 2016.83], label: null},
  y: {domain: [1700, 1850], label: null},
  style: {fontFamily: "Lato, sans-serif", fontSize: "14px", fontWeight: "bold", color: "#1e1e1e", background: "transparent", overflow: "visible"},
  marks: [
    Plot.ruleY(yMinorA, {stroke: "#c9c9c9", strokeWidth: 1.3}),
    Plot.ruleY(yTicksA, {stroke: "#a2a2a2", strokeWidth: 1.3}),
    Plot.ruleX(yearsA, {stroke: "#a2a2a2", strokeWidth: 1.3}),
    Plot.axisX({ticks: yearsA, tickFormat: d => String(d), tickSize: 6, tickPadding: 8, stroke: "#8c8c8c"}),
    Plot.axisY({ticks: yTicksA, tickFormat: d => String(d), tickSize: 6, tickPadding: 9, stroke: "#8c8c8c"}),
    Plot.text([{x: 2011.9, y: 1834.3, t: titleA}], {x: "x", y: "y", text: "t", fontSize: 19, fill: "#1a1a1a", stroke: "white", strokeWidth: 22}),
    Plot.text([{x: 2015.17, y: 1818.5, t: eqPoly}], {x: "x", y: "y", text: "t", fontSize: 16, fill: BLUE, stroke: "white", strokeWidth: 20}),
    Plot.text([{x: 2015.81, y: 1709.8, t: eqLinear}], {x: "x", y: "y", text: "t", fontSize: 16, fontWeight: "normal", fill: RED, stroke: "white", strokeWidth: 18}),
    Plot.line(linearConst, {x: px, y: py, stroke: RED, strokeWidth: 2.5, strokeDasharray: "7,4", clip: true}),
    Plot.line(polyObs, {x: px, y: py, curve: "natural", stroke: BLUE, strokeWidth: 2.3, strokeDasharray: "6,3", clip: true}),
    Plot.line(spoConst, {x: px, y: py, curve: "monotone-x", stroke: RED, strokeWidth: 2.5, strokeDasharray: "7,4", clip: true}),
    Plot.line(spoObs, {x: px, y: py, curve: "monotone-x", stroke: BLUE, strokeWidth: 2.6, clip: true})
  ]
});
chartA.style.top = "0px";
page.appendChild(chartA);

addText("(a)", 10, 20, {fontSize: "14px"});

// legend (a)
const legA = {fontSize: "16.5px", fontWeight: "bold", letterSpacing: "0.4px"};
addSwatch(537, 582, 300, RED, 2.5, "7,4");
addText(legendLabelsA[0], 585, 300, legA);
addSwatch(790, 851, 300, BLUE, 2.6, null);
addText(legendLabelsA[1], 855, 300, legA);
addSwatch(506, 545, 326, RED, 2.5, "7,4");
addText(legendLabelsA[2], 548, 326, legA);
addSwatch(787, 822, 326, BLUE, 2.3, "6,3");
addText(legendLabelsA[3], 825, 326, legA);

// panel (b)
addText(titleB, 0, 367, {fontSize: "16px", fontWeight: "bold", letterSpacing: "0.6px", width: "1380px", textAlign: "center"});
addText("(b)", 10, 391, {fontSize: "14px"});

const chartB = Plot.plot({
  width: 1317, height: 340,
  marginLeft: 100, marginRight: 0, marginTop: 9, marginBottom: 51,
  x: {domain: [0, 21.7], label: null},
  y: {domain: [1700, 1900], label: null},
  style: {fontFamily: "Lato, sans-serif", fontSize: "13px", color: "#1e1e1e", background: "transparent", overflow: "visible"},
  marks: [
    Plot.ruleY(d3.range(1705, 1900, 5).filter(v => v % 20 !== 0), {stroke: "#d9d9d9", strokeWidth: 1}),
    Plot.ruleX(d3.range(0.5, 21.7, 1), {stroke: "#c6c6c6", strokeWidth: 1.2}),
    Plot.ruleX(d3.range(0, xLabelsB.length), {stroke: "#a3a3a3", strokeWidth: 1.3}),
    Plot.ruleY(yTicksB, {stroke: "#8e8e8e", strokeWidth: 1.7}),
    Plot.dot(blueDots, {x: px, y: py, r: 1.55, fill: DOT_BLUE, fillOpacity: 0.8}),
    Plot.dot(redDots, {x: px, y: py, r: 1.55, fill: DOT_RED, fillOpacity: 0.75}),
    Plot.line(blueAvg, {x: px, y: py, stroke: BLUE, strokeWidth: 3.2}),
    Plot.line(redAvg, {x: px, y: py, stroke: RED, strokeWidth: 3.2}),
    Plot.axisX({ticks: d3.range(xLabelsB.length), tickFormat: i => xLabelsB[i], tickRotate: -45, tickSize: 5, tickPadding: 3, stroke: "#8c8c8c"}),
    Plot.axisY({ticks: yTicksB, tickFormat: d => String(d), tickSize: 4, tickPadding: 9, stroke: "#8c8c8c"}),
    Plot.text([yTitleB], {text: d => d, frameAnchor: "left", dx: -53, rotate: -90, fontSize: 13, fontWeight: "bold", fill: "#1e1e1e"})
  ]
});
chartB.style.top = "380px";
page.appendChild(chartB);

// legend (b)
const legB = {fontSize: "15px", fontWeight: "bold"};
addText("Year", 80, 725, {fontSize: "16px", fontWeight: "bold"});
addSwatch(272, 282, 729, DOT_BLUE, 0, null, true);
addText(legendLabelsB[0], 290, 729, legB);
addSwatch(711, 721, 729, DOT_RED, 0, null, true);
addText(legendLabelsB[1], 730, 729, legB);
addSwatch(262, 287, 753, BLUE, 3.2, null);
addText(legendLabelsB[2], 289, 753, legB);
addSwatch(705, 728, 753, RED, 3.2, null);
addText(legendLabelsB[3], 731, 753, legB);
</script>
</body>
</html>
